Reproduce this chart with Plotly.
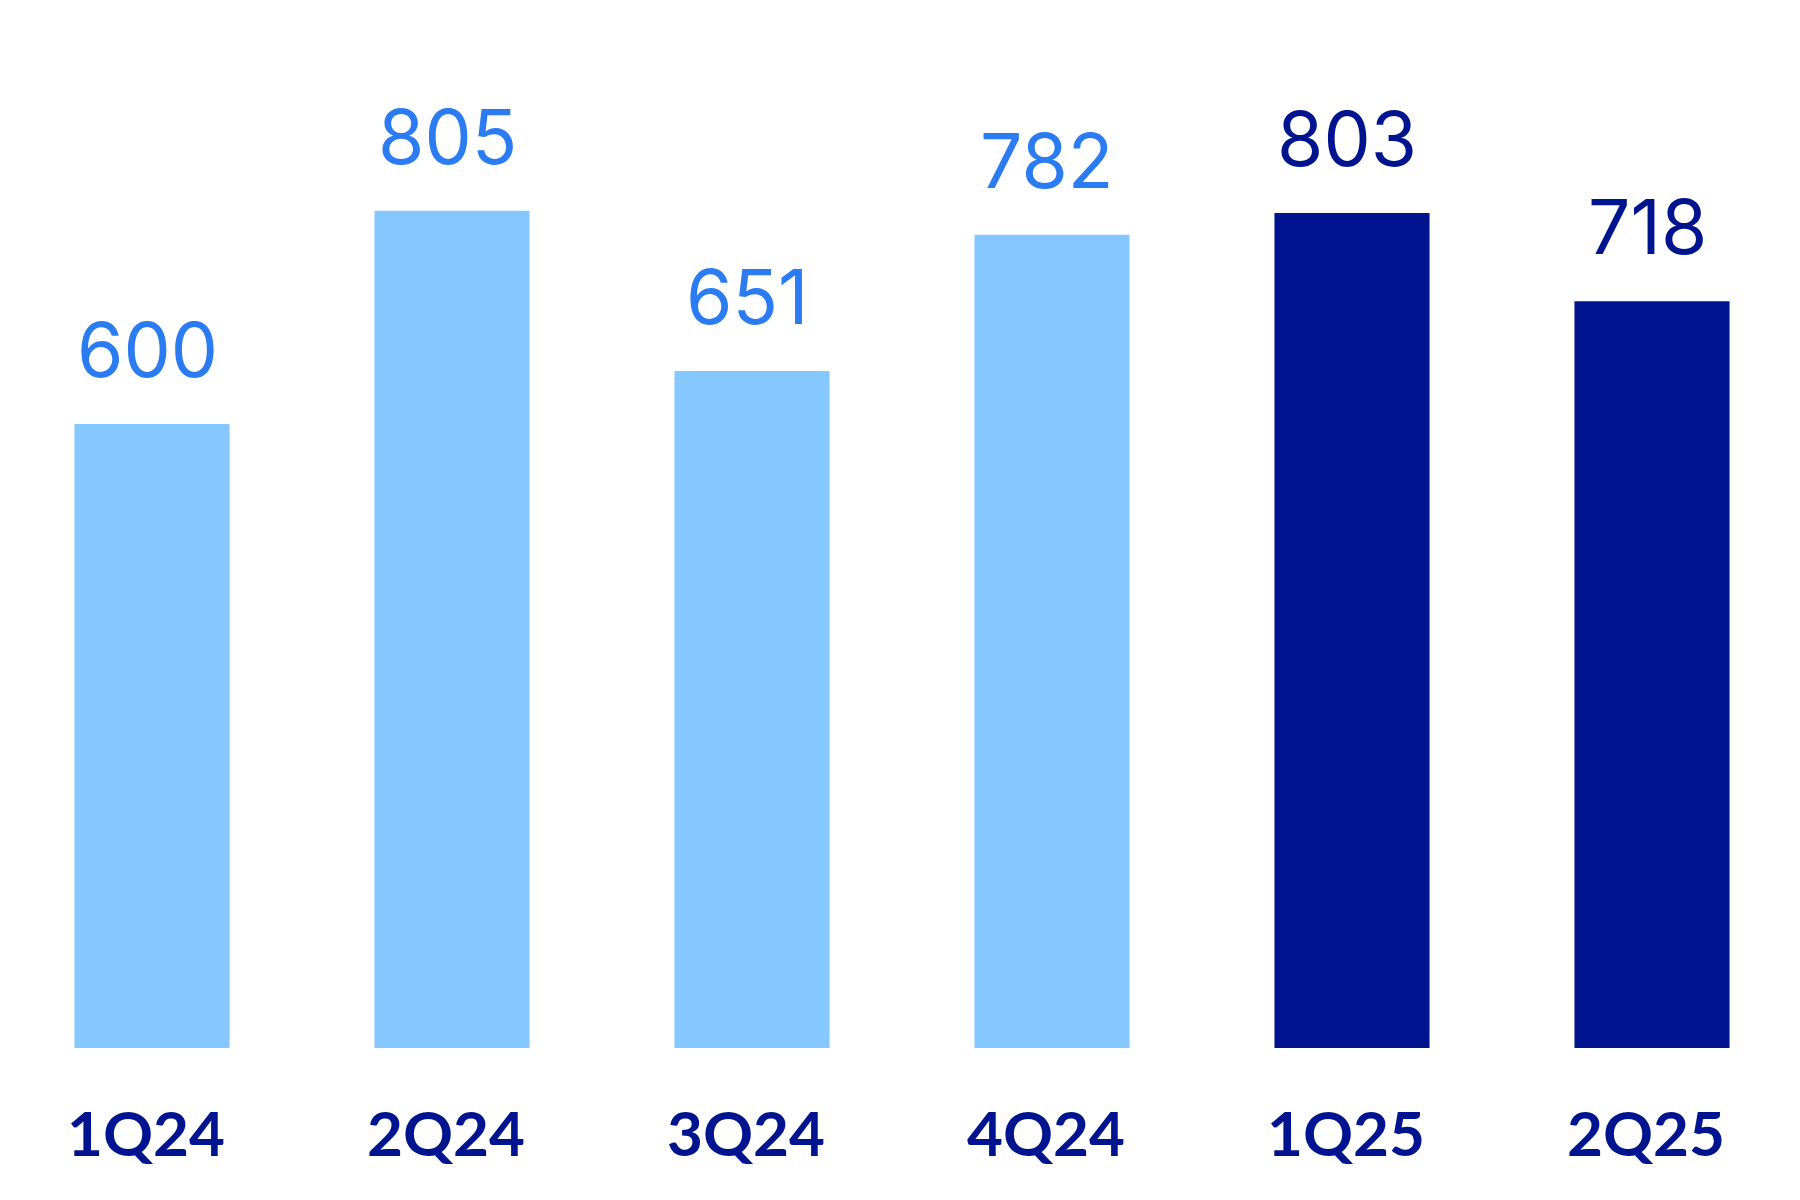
"""
Quarterly bar chart with value labels (Plotly).
"""
import plotly.graph_objects as go

quarters = ['1Q24', '2Q24', '3Q24', '4Q24', '1Q25', '2Q25']
values = [600, 805, 651, 782, 803, 718]

LIGHT_BAR = '#85C7FF'
LIGHT_TEXT = '#2B7BF2'
NAVY = '#00148F'

# current year quarters in navy, previous year in light blue
bar_colors = [NAVY if q.endswith('25') else LIGHT_BAR for q in quarters]
text_colors = [NAVY if q.endswith('25') else LIGHT_TEXT for q in quarters]

fig = go.Figure()

fig.add_trace(go.Bar(
    x=quarters,
    y=values,
    marker=dict(color=bar_colors, line=dict(width=0)),
    hoverinfo='x+y',
))

for q, v, c in zip(quarters, values, text_colors):
    # value above the bar
    fig.add_annotation(
        x=q, y=v,
        text=str(v),
        showarrow=False,
        yanchor='bottom',
        xshift=-5,
        yshift=27,
        font=dict(family='Inter', size=75, color=c),
    )
    # quarter label under the bar
    fig.add_annotation(
        x=q, y=0, yref='paper',
        text=f'<b>{q}</b>',
        showarrow=False,
        yanchor='top',
        xshift=-6,
        yshift=-45,
        font=dict(family='Lato', size=62, color=NAVY),
    )

fig.update_layout(
    width=1800,
    height=1200,
    margin=dict(l=0, r=0, t=0, b=160),
    plot_bgcolor='white',
    paper_bgcolor='white',
    bargap=0.483,
    showlegend=False,
    xaxis=dict(
        range=[-0.48, 5.52],
        showgrid=False,
        showline=False,
        zeroline=False,
        showticklabels=False,
    ),
    yaxis=dict(
        range=[0, 1000],
        visible=False,
    ),
)

fig.write_html("out.html")
